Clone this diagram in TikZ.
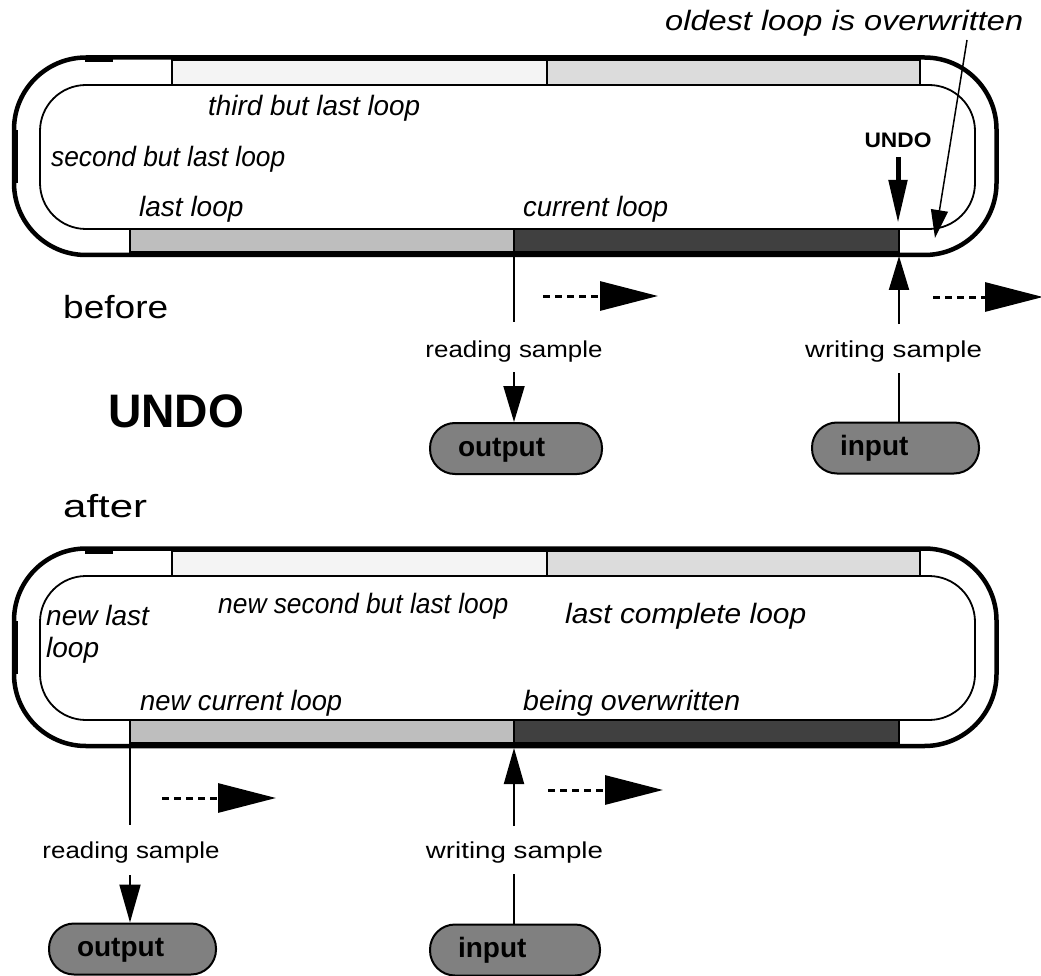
\documentclass[tikz,border=0pt]{standalone}
\usepackage{fontspec}
\setmainfont{Liberation Sans}
\usetikzlibrary{arrows.meta}
\definecolor{barA}{HTML}{F4F4F4}
\definecolor{barB}{HTML}{DCDCDC}
\definecolor{barC}{HTML}{BEBEBE}
\definecolor{barD}{HTML}{404040}
\definecolor{pillgray}{HTML}{808080}
\newcommand\fitw[2]{\resizebox{#1pt}{\height}{#2}}
\tikzset{
  outerline/.style={line width=4.5pt},
  innerline/.style={line width=1.8pt},
  barbox/.style={line width=1.8pt},
  conn/.style={line width=2pt},
  dsh/.style={line width=3pt, dash pattern=on 7pt off 5pt},
  ital/.style={inner sep=0pt, anchor=base west, font=\fontsize{28}{30}\selectfont\itshape},
  plain/.style={inner sep=0pt, anchor=base, font=\fontsize{23}{26}\selectfont},
  big/.style={inner sep=0pt, anchor=base west, font=\fontsize{32}{36}\selectfont},
  pillbox/.style={draw, line width=2pt, fill=pillgray, rounded corners=25pt,
    minimum height=51pt, inner xsep=28pt, inner ysep=0pt, align=left,
    text height=19pt, text depth=4pt,
    font=\fontsize{28}{30}\selectfont\bfseries},
  headA/.style={-{Triangle[length=36pt,width=21pt]}},
  headD/.style={-{Triangle[length=58pt,width=29pt]}}
}
\newcommand\panelshapes{%
  \draw[barbox, fill=barA] (172,60) rectangle (547,85);
  \draw[barbox, fill=barB] (547,60) rectangle (920,85);
  \draw[barbox, fill=barC] (130,229) rectangle (514,252);
  \draw[barbox, fill=barD] (514,229) rectangle (899,252);
  \draw[innerline, rounded corners=46pt] (40,85) rectangle (975,229);
  \draw[outerline, rounded corners=72pt] (14,57.5) rectangle (996.5,255);
  \draw[line width=3pt] (85,61) -- (113,61);
  \draw[line width=6pt] (15,130) -- (15,183);
}
\begin{document}
\begin{tikzpicture}[x=1pt, y=-1pt]
\useasboundingbox (0,0) rectangle (1041,976);
% ---------------- before ----------------
\panelshapes
\node[ital] (old) at (665,31) {\fitw{358}{oldest loop is overwritten}};
\node[ital] (tbl) at (208,116) {\fitw{212}{third but last loop}};
\node[ital] (sbl) at (51,167) {\fitw{234}{second but last loop}};
\node[ital] (ll) at (139,217) {last loop};
\node[ital] (cl) at (523,217) {\fitw{145}{current loop}};
\node[inner sep=0pt, anchor=base, font=\fontsize{21}{24}\selectfont\bfseries] (undoA) at (898,148) {\fitw{67}{UNDO}};
\coordinate (uA) at (898,157);
\coordinate (uB) at (898,223);
\draw[line width=5pt, -{Triangle[length=43pt,width=18pt]}] (uA) -- (uB);
\coordinate (oA) at (967,40);
\coordinate (oB) at (935,238);
\draw[line width=1.5pt, -{Triangle[length=28pt,width=17pt]}] (oA) -- (oB);

\node[big] (before) at (63,318) {\fitw{105}{before}};
\node[inner sep=0pt, anchor=base west, font=\fontsize{47}{50}\selectfont\bfseries] (undo) at (108,427) {\fitw{136}{UNDO}};
\node[big] (after) at (63,517) {\fitw{84}{after}};

% reading (top)
\coordinate (r1) at (514,255);
\coordinate (r1b) at (514,322);
\draw[conn] (r1) -- (r1b);
\node[plain] (rs1) at (514,357) {\fitw{177}{reading sample}};
\node[pillbox, text width=116pt] (out1) at (516,448.5) {output};
\coordinate (r1c) at (514,372);
\draw[conn, headA] (r1c) -- (r1c |- out1.north);
\coordinate (d1a) at (543,296);
\coordinate (d1b) at (658,296);
\draw[dsh, headD] (d1a) -- (d1b);

% writing (top)
\coordinate (w1) at (899,256);
\coordinate (w1b) at (899,324);
\draw[conn, -{Triangle[length=34pt,width=20pt]}] (w1b) -- (w1);
\node[plain] (ws1) at (893.5,357) {\fitw{177}{writing sample}};
\node[pillbox, text width=111pt] (in1) at (895.5,448) {input};
\coordinate (w1c) at (899,373);
\draw[conn] (w1c) -- (w1c |- in1.north);
\coordinate (d2a) at (933,297);
\coordinate (d2b) at (1043,297);
\draw[dsh, headD] (d2a) -- (d2b);

% ---------------- after ----------------
\begin{scope}[shift={(0,491)}]
\panelshapes
\end{scope}
\node[ital] (nl1) at (46,625) {new last};
\node[ital] (nl2) at (46,657) {loop};
\node[ital] (nsbl) at (218,613) {\fitw{290}{new second but last loop}};
\node[ital] (lcl) at (565,623) {\fitw{241}{last complete loop}};
\node[ital] (ncl) at (140,710) {\fitw{202}{new current loop}};
\node[ital] (bo) at (523,710) {\fitw{217}{being overwritten}};

% reading (bottom)
\coordinate (r2) at (130,747);
\coordinate (r2b) at (130,825);
\draw[conn] (r2) -- (r2b);
\node[plain] (rs2) at (131,858) {\fitw{177}{reading sample}};
\node[pillbox, text width=111pt] (out2) at (132.5,949) {output};
\coordinate (r2c) at (130,875);
\draw[conn, -{Triangle[length=38pt,width=21pt]}] (r2c) -- (r2c |- out2.north);
\coordinate (d3a) at (162,798);
\coordinate (d3b) at (276,798);
\draw[dsh, headD] (d3a) -- (d3b);

% writing (bottom)
\coordinate (w2) at (514,748);
\coordinate (w2b) at (514,826);
\draw[conn, -{Triangle[length=36pt,width=20pt]}] (w2b) -- (w2);
\node[plain] (ws2) at (514.5,858) {\fitw{177}{writing sample}};
\node[pillbox, text width=114pt] (in2) at (515,950) {input};
\coordinate (w2c) at (514,874);
\draw[conn] (w2c) -- (w2c |- in2.north);
\coordinate (d4a) at (548,790);
\coordinate (d4b) at (663,790);
\draw[dsh, headD] (d4a) -- (d4b);
\end{tikzpicture}
\end{document}
